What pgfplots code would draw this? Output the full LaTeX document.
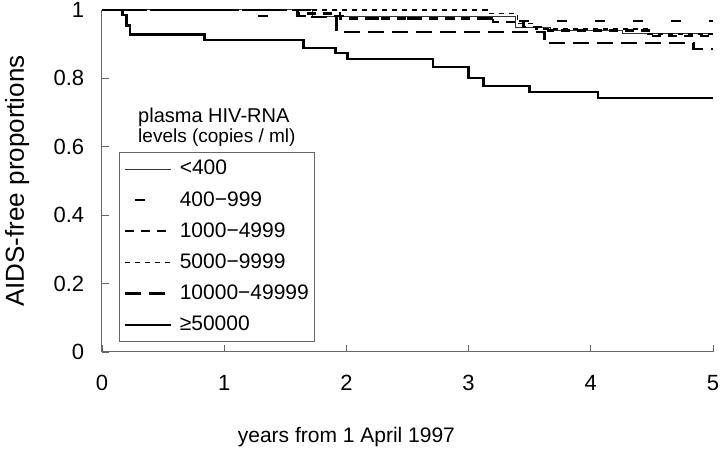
\documentclass[border=0pt]{standalone}
\usepackage{pgfplots}
\pgfplotsset{compat=1.18}
\usepackage{fontspec}
\setmainfont{Liberation Sans}
\begin{document}
\fontsize{20}{24}\selectfont
\begin{tikzpicture}
\begin{axis}[
  scale only axis, width=611pt, height=342pt,
  at={(0pt,0pt)}, anchor=south west,
  xmin=0, xmax=5, ymin=0, ymax=1,
  axis lines=left, axis line style={-, draw=black!60, line width=1pt},
  clip=false,
  xtick={0,1,2,3,4,5}, ytick={0,0.2,0.4,0.6,0.8,1},
  tick align=inside, major tick length=7pt,
  tick style={draw=black!60, line width=0.8pt},
  /pgf/number format/assume math mode=true,
  every tick label/.append style={font=\fontsize{22}{26}\selectfont},
  xticklabel style={yshift=-16pt},
  yticklabel style={xshift=-11pt},
  xlabel={years from 1 April 1997},
  xlabel style={font=\fontsize{21}{25}\selectfont, at={(axis description cs:0.40,-0.249)}, anchor=center},
  ylabel={AIDS-free proportions},
  ylabel style={font=\fontsize{26}{30}\selectfont, at={(axis description cs:-0.139,0.5)}, anchor=center},
  legend cell align=left,
  legend style={font=\fontsize{21}{25}\selectfont, draw=black!60, line width=0.8pt,
     at={(axis description cs:0.028,0.029)}, anchor=south west,
     inner xsep=4pt, inner ysep=6pt, row sep=9.5pt},
  legend image code/.code={\draw[#1] (0pt,0pt) -- (46pt,0pt); \path[draw=none] (0pt,0pt) -- (53pt,0pt);},
]
% <400
\addplot[const plot, black!80, line width=1pt] coordinates {
 (0,1) (1.72,0.98) (3.38,0.95) (3.67,0.94) (4.26,0.932) (5,0.932)};
\addlegendentry{<400}
% 400-999
\addplot[const plot, black, line width=2.2pt, dash pattern=on 10pt off 28pt, dash phase=28pt] coordinates {
 (0,1) (1.25,0.983) (2.0,0.975) (3.3,0.968) (5,0.968)};
\addlegendentry{400−999}
% 1000-4999
\addplot[const plot, black, line width=2.2pt, dash pattern=on 9pt off 7pt] coordinates {
 (0,1) (1.6,0.99) (1.95,0.975) (3.2,0.965) (3.45,0.95) (3.65,0.94) (4.5,0.925) (5,0.925)};
\addlegendentry{1000−4999}
% 5000-9999
\addplot[const plot, black, line width=1.6pt, dash pattern=on 5pt off 5pt] coordinates {
 (0,1) (3.15,0.99) (3.4,0.96) (3.55,0.945) (4.47,0.93) (5,0.93)};
\addlegendentry{5000−9999}
% 10000-49999
\addplot[const plot, black, line width=2.6pt, dash pattern=on 16pt off 8pt] coordinates {
 (0,1) (1.7,0.98) (1.92,0.936) (3.62,0.903) (4.84,0.886) (5,0.886)};
\addlegendentry{10000−49999}
% >=50000
\addplot[const plot, black, line width=2.6pt] coordinates {
 (0,1) (0.17,0.985) (0.2,0.955) (0.23,0.928) (0.84,0.912) (1.65,0.889) (1.91,0.874) (2.01,0.857) (2.71,0.833) (3.0,0.801) (3.12,0.778) (3.5,0.760) (4.06,0.743) (5,0.743)};
\addlegendentry{≥50000}
\node[anchor=base west, font=\fontsize{20}{24}\selectfont, inner sep=0pt] at (axis cs:0.295,0.672) {plasma HIV-RNA};
\node[anchor=base west, font=\fontsize{19}{23}\selectfont, inner sep=0pt] at (axis cs:0.295,0.614) {levels (copies / ml)};
\end{axis}
\pgfresetboundingbox
\path (-102pt,-100pt) rectangle (619pt,352pt);
\end{tikzpicture}
\end{document}
